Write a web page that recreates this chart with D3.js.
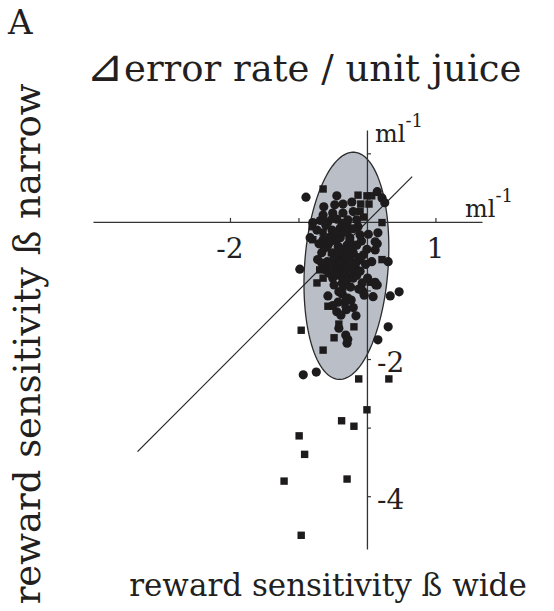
<!DOCTYPE html>
<html>
<head>
<meta charset="utf-8">
<script src="https://cdn.jsdelivr.net/npm/d3@7"></script>
<style>
  body { margin: 0; background: #fff; }
  svg text { font-family: "DejaVu Serif", serif; fill: #231f20; }
</style>
</head>
<body>
<svg id="chart" width="554" height="611"></svg>
<script>
// beta wide (x) vs beta narrow (y), ml^-1
var squares = [
  [0.00,-2.74],[-0.37,-2.90],[-0.19,-2.98],[-0.99,-3.12],[-0.91,-3.39],[-1.21,-3.78],[-0.29,-3.75],[-0.96,-4.57],
  [-0.12,-2.29],[0.32,-2.29],[-0.96,-1.58],[-0.64,-1.87],[-0.48,-1.69],[-0.19,-1.53],[-0.41,-1.49],[-0.57,-1.23],
  [-0.32,-1.20],[-0.31,-1.15],[-0.64,0.48],[-0.13,0.39],[0.00,0.38],[0.07,0.38],[-0.09,0.26],[-0.10,0.15],
  [0.22,-0.01],[-0.80,-0.07],[-0.64,-0.15],[-0.79,-0.26],[0.22,-0.55],[-0.69,-0.70],[-0.73,-0.89],[-0.64,-0.82],
  [-0.35,-0.95],[-0.15,-0.70],[-0.52,-0.45],[-0.20,-0.35],[-0.45,-0.62],[0.05,-0.88],[-0.28,-0.05],[0.03,0.26],
  [-0.05,0.07]
];
var circles = [
  [-0.93,-2.23],[-0.74,-2.19],[0.16,-1.72],[0.31,-1.53],[0.34,-1.08],[0.47,-1.02],
  [-0.31,-1.65],[-0.28,-1.71],[-0.29,-1.77],[-0.41,-1.55],[-0.44,-1.31],[-0.38,-1.36],[-0.16,-1.37],
  [-0.57,-1.08],[-0.41,-1.02],[-0.36,-1.05],[-0.42,-1.17],[-0.23,-1.14],[-0.06,-1.01],[-0.04,-1.07],
  [0.09,-1.09],[0.13,-0.92],[0.12,-0.88],[0.15,-0.92],
  [-0.98,-0.69],[-0.89,0.36],
  [-0.44,0.38],[-0.63,0.22],[-0.47,0.25],[-0.35,0.26],[-0.22,0.29],[0.15,0.44],[0.22,0.35],[0.26,0.28],
  [-0.20,0.15],[-0.35,0.13],[-0.50,0.13],[-0.64,0.10],[-0.79,-0.01],[-0.57,0.00],[-0.44,0.04],[-0.28,0.03],
  [-0.15,0.03],[-0.73,-0.12],[-0.51,-0.12],[-0.39,-0.09],[-0.28,-0.12],[-0.13,-0.07],[-0.83,-0.23],[-0.64,-0.26],
  [-0.54,-0.22],[-0.39,-0.23],[-0.25,-0.23],[-0.10,-0.19],[0.16,-0.16],[0.12,-0.29],[-0.57,-0.34],[-0.42,-0.36],
  [-0.29,-0.34],[-0.15,-0.34],[0.15,-0.32],[0.12,-0.41],[0.31,-0.58],[0.07,-0.58],[-0.10,-0.55],
  [-0.66,-0.45],[-0.50,-0.45],[-0.35,-0.48],[-0.20,-0.45],[-0.05,-0.48],[-0.72,-0.55],[-0.58,-0.58],
  [-0.44,-0.55],[-0.30,-0.58],[-0.16,-0.60],[-0.02,-0.62],[-0.60,-0.70],[-0.46,-0.68],[-0.32,-0.72],
  [-0.20,-0.70],[-0.40,-0.78],[-0.26,-0.80],[-0.50,-0.82],[-0.20,-0.82],[-0.07,-0.89],[0.01,-0.82],
  [-0.36,-0.89],[-0.39,-1.02],[-0.28,-1.11],[-0.66,-0.60],
  [-0.55,-0.30],[-0.45,-0.28],[-0.35,-0.40],[-0.25,-0.40],[-0.48,-0.52],[-0.38,-0.60],[-0.25,-0.52],
  [-0.12,-0.52],[-0.52,-0.62],[-0.40,-0.68],[-0.28,-0.65],[-0.35,-0.78],[-0.45,-0.75],[-0.30,-0.86],
  [-0.15,-0.78],[-0.55,-0.75],[-0.62,-0.38],[-0.70,-0.32],[-0.32,-0.15],[-0.45,-0.17],[-0.60,-0.05],
  [-0.20,-0.10],[-0.08,-0.28],[0.00,-0.40],[0.02,-0.18],[-0.68,0.02],[-0.36,-0.02],[-0.50,0.06],
  [-0.25,-0.28],[-0.42,-0.45],[-0.30,-0.50],[-0.18,-0.62],[-0.10,-0.72],[-0.48,-0.92],[-0.24,-0.95],
  [-0.12,-0.98],[-0.30,-1.28],[-0.50,-1.22],[-0.20,-1.25]
];

var xTicks = [-2, -1, 1];
var xTickLabels = [-2, 1];
var yTicks = [1, -1, -2, -3, -4];
var yTickLabels = [-2, -4];
var unityLine = [-3.35, 0.66];
// confidence ellipse: centre, semi axes, tilt of the long axis (deg, clockwise)
var ellCentre = [-0.30, -0.64];
var ellAxes = [1.66, 0.61];
var ellTilt = 4;

var svg = d3.select('#chart');

var x = d3.scaleLinear().domain([-4, 1.68]).range([93, 482]);
var y = d3.scaleLinear().domain([1.34, -4.77]).range([130, 549]);

// ellipse
var th = ellTilt * Math.PI / 180;
var ellPts = d3.range(0, 361, 3).map(function(d) {
  var t = d * Math.PI / 180;
  var a = ellAxes[0] * Math.cos(t), b = ellAxes[1] * Math.sin(t);
  return [ellCentre[0] + a * Math.sin(th) + b * Math.cos(th),
          ellCentre[1] + a * Math.cos(th) - b * Math.sin(th)];
});
var line = d3.line().x(function(d) { return x(d[0]); }).y(function(d) { return y(d[1]); });
svg.append('path')
  .attr('d', line(ellPts) + 'Z')
  .attr('fill', '#b9bec7')
  .attr('stroke', '#2b2b2b')
  .attr('stroke-width', 1.3);

// axes through the origin
svg.append('g')
  .attr('transform', 'translate(0,' + y(0) + ')')
  .call(d3.axisTop(x).tickValues(xTicks).tickSize(4).tickSizeOuter(0).tickFormat(''));
svg.append('g')
  .attr('transform', 'translate(' + x(0) + ',0)')
  .call(d3.axisRight(y).tickValues(yTicks).tickSize(4).tickSizeOuter(0).tickFormat(''));
svg.selectAll('.domain').attr('stroke', '#333').attr('stroke-width', 1.3);
svg.selectAll('.tick line').attr('stroke', '#333').attr('stroke-width', 1.2);

svg.selectAll('.xlab')
  .data(xTickLabels)
  .enter().append('text')
  .attr('x', function(d) { return x(d); })
  .attr('y', y(0) + 36)
  .attr('text-anchor', 'middle')
  .attr('font-size', 28)
  .text(function(d) { return d; });

svg.selectAll('.ylab')
  .data(yTickLabels)
  .enter().append('text')
  .attr('x', x(0) + 10)
  .attr('y', function(d) { return y(d) + 13; })
  .attr('font-size', 28)
  .text(function(d) { return d; });

// unity line
svg.append('line')
  .attr('x1', x(unityLine[0])).attr('y1', y(unityLine[0]))
  .attr('x2', x(unityLine[1])).attr('y2', y(unityLine[1]))
  .attr('stroke', '#222').attr('stroke-width', 1.2);

// points
svg.selectAll('.sq')
  .data(squares)
  .enter().append('rect')
  .attr('x', function(d) { return x(d[0]) - 3.7; })
  .attr('y', function(d) { return y(d[1]) - 3.7; })
  .attr('width', 7.4).attr('height', 7.4)
  .attr('fill', '#1e1b1c');

svg.selectAll('.ci')
  .data(circles)
  .enter().append('circle')
  .attr('cx', function(d) { return x(d[0]); })
  .attr('cy', function(d) { return y(d[1]); })
  .attr('r', 4.6)
  .attr('fill', '#1e1b1c');

// units
function unit(px, py, size) {
  var t = svg.append('text').attr('x', px).attr('y', py).attr('font-size', size);
  t.append('tspan').text('ml');
  t.append('tspan').attr('dy', -15).attr('font-size', size * 0.75).text('-1');
}
unit(x(0) + 8, y(1.34) + 12, 24);
unit(465, 217, 24);

// labels
svg.append('text').attr('x', 8).attr('y', 34).attr('font-size', 34).text('A');
var title = svg.append('text').attr('x', 86).attr('y', 81).attr('font-size', 37);
title.append('tspan').attr('font-size', 45).text('\u22BF');
title.append('tspan').text('error rate / unit juice');
svg.append('text')
  .attr('transform', 'translate(40,344) rotate(-90)')
  .attr('text-anchor', 'middle')
  .attr('font-size', 37)
  .text('reward sensitivity  \u00DF narrow');
svg.append('text')
  .attr('x', 328).attr('y', 596)
  .attr('text-anchor', 'middle')
  .attr('font-size', 31)
  .text('reward sensitivity \u00DF wide');
</script>
</body>
</html>
